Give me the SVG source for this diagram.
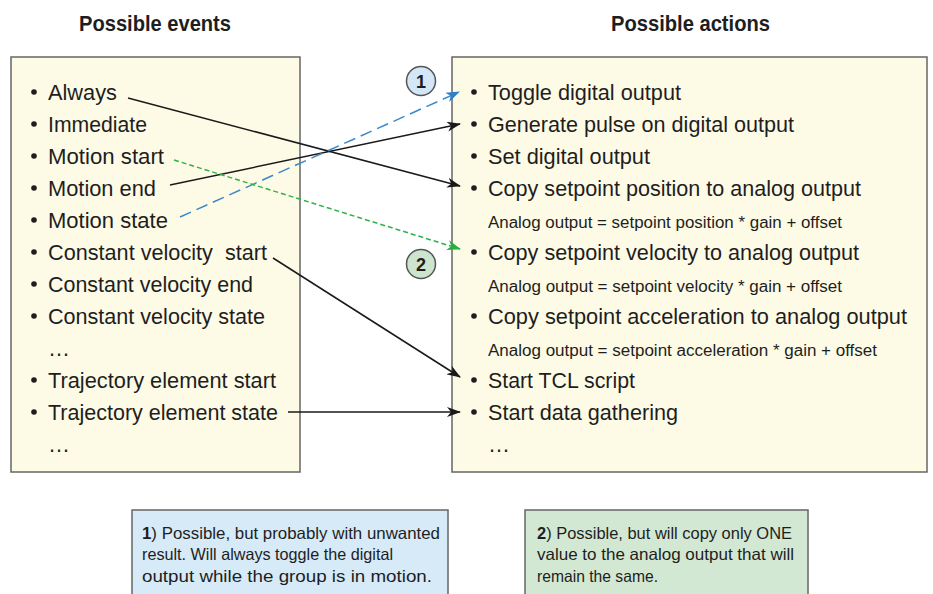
<svg xmlns="http://www.w3.org/2000/svg" width="933" height="594" viewBox="0 0 933 594">
<defs>
<style>
text{font-family:"Liberation Sans",Arial,sans-serif;fill:#1e1e1e}
.it{font-size:22.5px}
.fm{font-size:16px}
.hd{font-size:22px;font-weight:bold}
.nt{font-size:16.5px}
.box{fill:#fdfbe6;stroke:#666;stroke-width:1.5}
.blt{fill:#1e1e1e}
.cn{fill:none;stroke-width:1.5}
.blk{stroke:#1a1a1a}
.blu{stroke:#3a88cc;stroke-dasharray:12 6}
.grn{stroke:#2db24a;stroke-dasharray:5 3}
.circ{stroke:#555;stroke-width:1.5}
</style>
<marker id="ab" viewBox="0 0 14 10" refX="13" refY="5" markerWidth="14" markerHeight="10" markerUnits="userSpaceOnUse" orient="auto"><path d="M0,0 L14,5 L0,10 L4,5 z" fill="#1a1a1a"/></marker>
<marker id="abb" viewBox="0 0 14 10" refX="13" refY="5" markerWidth="14" markerHeight="10" markerUnits="userSpaceOnUse" orient="auto"><path d="M0,0 L14,5 L0,10 L4,5 z" fill="#2f7fc4"/></marker>
<marker id="abg" viewBox="0 0 14 10" refX="13" refY="5" markerWidth="14" markerHeight="10" markerUnits="userSpaceOnUse" orient="auto"><path d="M0,0 L14,5 L0,10 L4,5 z" fill="#22b040"/></marker>
</defs>
<rect width="933" height="594" fill="#fff"/>

<text class="hd" x="79" y="31" textLength="152" lengthAdjust="spacingAndGlyphs">Possible events</text>
<text class="hd" x="611" y="31" textLength="159" lengthAdjust="spacingAndGlyphs">Possible actions</text>

<g id="events">
<rect class="box" x="11" y="57" width="289" height="415"/>
<g class="blt">
<circle cx="34" cy="92" r="2.8"/><circle cx="34" cy="124" r="2.8"/><circle cx="34" cy="156" r="2.8"/><circle cx="34" cy="188" r="2.8"/><circle cx="34" cy="220" r="2.8"/><circle cx="34" cy="252" r="2.8"/><circle cx="34" cy="284" r="2.8"/><circle cx="34" cy="316" r="2.8"/><circle cx="34" cy="380" r="2.8"/><circle cx="34" cy="412" r="2.8"/>
</g>
<text class="it" x="48" y="100" textLength="69" lengthAdjust="spacingAndGlyphs">Always</text>
<text class="it" x="48" y="132" textLength="99" lengthAdjust="spacingAndGlyphs">Immediate</text>
<text class="it" x="48" y="164" textLength="116" lengthAdjust="spacingAndGlyphs">Motion start</text>
<text class="it" x="48" y="196" textLength="108" lengthAdjust="spacingAndGlyphs">Motion end</text>
<text class="it" x="48" y="228" textLength="120" lengthAdjust="spacingAndGlyphs">Motion state</text>
<text class="it" x="48" y="260" textLength="219" lengthAdjust="spacingAndGlyphs" xml:space="preserve">Constant velocity  start</text>
<text class="it" x="48" y="292" textLength="205" lengthAdjust="spacingAndGlyphs">Constant velocity end</text>
<text class="it" x="48" y="324" textLength="217" lengthAdjust="spacingAndGlyphs">Constant velocity state</text>
<text class="it" x="48" y="356" textLength="22" lengthAdjust="spacingAndGlyphs">…</text>
<text class="it" x="48" y="388" textLength="228" lengthAdjust="spacingAndGlyphs">Trajectory element start</text>
<text class="it" x="48" y="420" textLength="230" lengthAdjust="spacingAndGlyphs">Trajectory element state</text>
<text class="it" x="48" y="452" textLength="22" lengthAdjust="spacingAndGlyphs">…</text>
</g>

<g id="actions">
<rect class="box" x="452" y="57" width="475" height="415"/>
<g class="blt">
<circle cx="474" cy="92" r="2.8"/><circle cx="474" cy="124" r="2.8"/><circle cx="474" cy="156" r="2.8"/><circle cx="474" cy="188" r="2.8"/><circle cx="474" cy="252" r="2.8"/><circle cx="474" cy="316" r="2.8"/><circle cx="474" cy="380" r="2.8"/><circle cx="474" cy="412" r="2.8"/>
</g>
<text class="it" x="488" y="100" textLength="193" lengthAdjust="spacingAndGlyphs">Toggle digital output</text>
<text class="it" x="488" y="132" textLength="306" lengthAdjust="spacingAndGlyphs">Generate pulse on digital output</text>
<text class="it" x="488" y="164" textLength="162" lengthAdjust="spacingAndGlyphs">Set digital output</text>
<text class="it" x="488" y="196" textLength="373" lengthAdjust="spacingAndGlyphs">Copy setpoint position to analog output</text>
<text class="fm" x="488" y="228" textLength="354" lengthAdjust="spacingAndGlyphs">Analog output = setpoint position * gain + offset</text>
<text class="it" x="488" y="260" textLength="371" lengthAdjust="spacingAndGlyphs">Copy setpoint velocity to analog output</text>
<text class="fm" x="488" y="292" textLength="354" lengthAdjust="spacingAndGlyphs">Analog output = setpoint velocity * gain + offset</text>
<text class="it" x="488" y="324" textLength="419" lengthAdjust="spacingAndGlyphs">Copy setpoint acceleration to analog output</text>
<text class="fm" x="488" y="356" textLength="389" lengthAdjust="spacingAndGlyphs">Analog output = setpoint acceleration * gain + offset</text>
<text class="it" x="488" y="388" textLength="147" lengthAdjust="spacingAndGlyphs">Start TCL script</text>
<text class="it" x="488" y="420" textLength="190" lengthAdjust="spacingAndGlyphs">Start data gathering</text>
<text class="it" x="488" y="452" textLength="22" lengthAdjust="spacingAndGlyphs">…</text>
</g>

<g id="connectors">
<line class="cn blk" x1="128" y1="98" x2="460" y2="186" marker-end="url(#ab)"/>
<line class="cn blk" x1="170" y1="185" x2="460" y2="124" marker-end="url(#ab)"/>
<line class="cn blu" x1="180" y1="217" x2="459" y2="92" marker-end="url(#abb)"/>
<line class="cn grn" x1="174" y1="160" x2="460" y2="249" marker-end="url(#abg)"/>
<line class="cn blk" x1="273" y1="258" x2="460" y2="377" marker-end="url(#ab)"/>
<line class="cn blk" x1="288" y1="412" x2="460" y2="412" marker-end="url(#ab)"/>
</g>

<g id="badge1">
<circle class="circ" cx="421" cy="81" r="14.5" fill="#d3e7f6"/>
<text x="421" y="88" text-anchor="middle" font-size="18" font-weight="bold">1</text>
</g>
<g id="badge2">
<circle class="circ" cx="421" cy="264" r="14.5" fill="#cde4cf"/>
<text x="421" y="271" text-anchor="middle" font-size="18" font-weight="bold">2</text>
</g>

<g id="note1">
<rect x="132" y="510" width="316" height="100" fill="#d6eaf8" stroke="#666" stroke-width="1.5"/>
<text class="nt" x="142" y="539" textLength="298" lengthAdjust="spacingAndGlyphs"><tspan font-weight="bold">1</tspan>) Possible, but probably with unwanted</text>
<text class="nt" x="142" y="560" textLength="251" lengthAdjust="spacingAndGlyphs">result. Will always toggle the digital</text>
<text class="nt" x="142" y="582" textLength="290" lengthAdjust="spacingAndGlyphs">output while the group is in motion.</text>
</g>
<g id="note2">
<rect x="525" y="510" width="283" height="100" fill="#d3e8d3" stroke="#666" stroke-width="1.5"/>
<text class="nt" x="537" y="539" textLength="255" lengthAdjust="spacingAndGlyphs"><tspan font-weight="bold">2</tspan>) Possible, but will copy only ONE</text>
<text class="nt" x="537" y="560" textLength="257" lengthAdjust="spacingAndGlyphs">value to the analog output that will</text>
<text class="nt" x="537" y="582" textLength="121" lengthAdjust="spacingAndGlyphs">remain the same.</text>
</g>
</svg>
